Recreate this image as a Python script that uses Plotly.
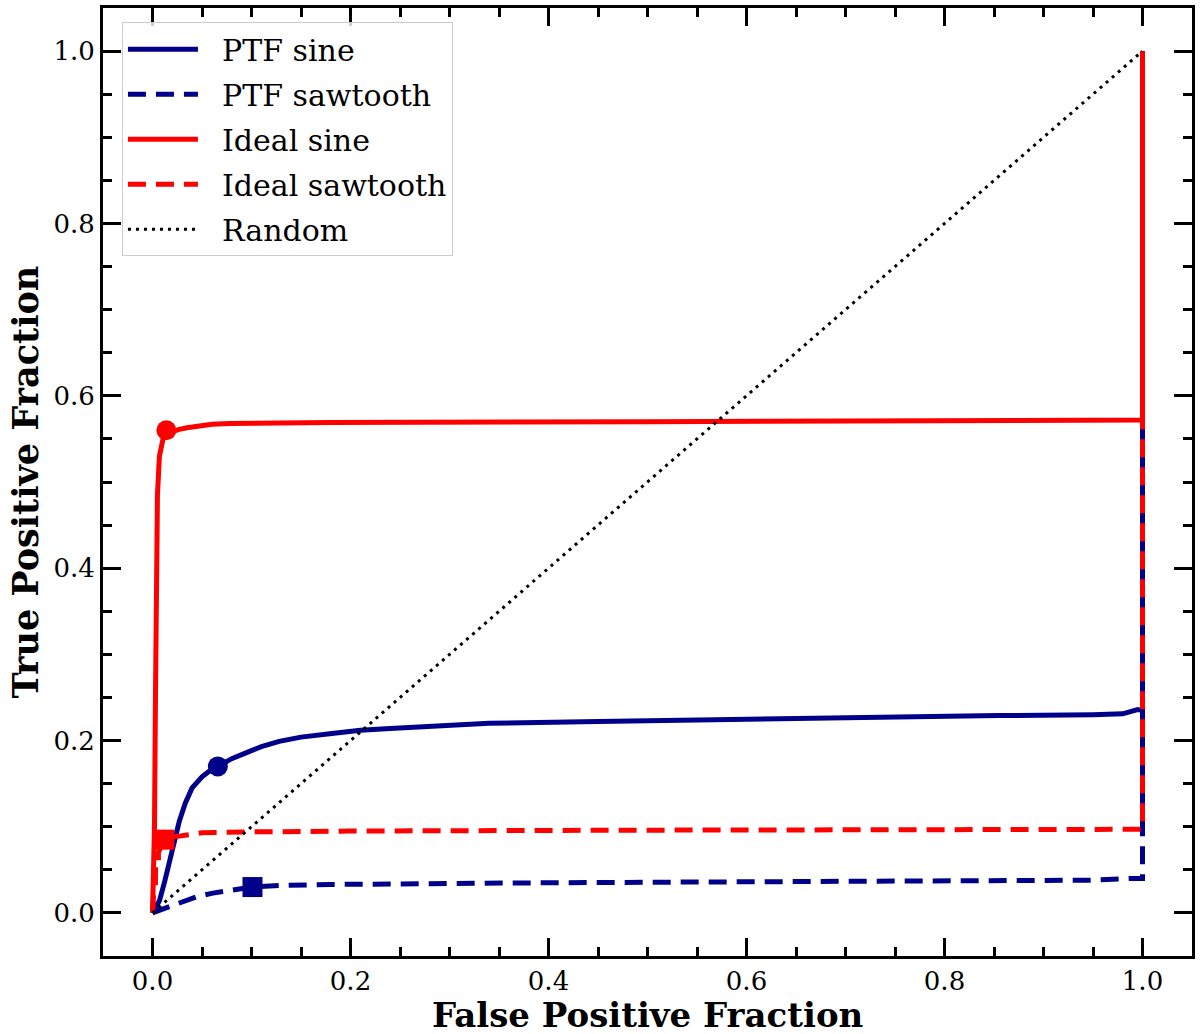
import plotly.graph_objects as go

# ---- data ----
ptf_sine_x = [0.0, 0.003, 0.007, 0.012, 0.017, 0.022, 0.027, 0.033, 0.04, 0.05, 0.058, 0.066, 0.08, 0.095,
              0.11, 0.128, 0.15, 0.179, 0.21, 0.24, 0.3, 0.34, 0.45, 0.55, 0.7, 0.855, 0.95, 0.98, 0.995, 1.0, 1.0]
ptf_sine_y = [0.0, 0.005, 0.014, 0.035, 0.06, 0.083, 0.106, 0.127, 0.145, 0.158, 0.165, 0.17, 0.179, 0.186,
              0.193, 0.199, 0.204, 0.208, 0.212, 0.214, 0.218, 0.22, 0.222, 0.224, 0.226, 0.229, 0.230, 0.231, 0.236, 0.235, 1.0]

ptf_saw_x = [0.0, 0.01, 0.02, 0.03, 0.045, 0.061, 0.08, 0.101, 0.13, 0.179, 0.4, 0.7, 0.95, 0.99, 1.0, 1.0]
ptf_saw_y = [0.0, 0.004, 0.008, 0.013, 0.019, 0.023, 0.027, 0.03, 0.032, 0.033, 0.035, 0.037, 0.038, 0.040, 0.040, 1.0]

ideal_sine_x = [0.0, 0.002, 0.003, 0.004, 0.005, 0.007, 0.009, 0.011, 0.014, 0.02, 0.027, 0.035, 0.045, 0.06,
                0.078, 0.18, 0.5, 0.8, 0.995, 1.0, 1.0]
ideal_sine_y = [0.0, 0.1, 0.25, 0.384, 0.485, 0.53, 0.546, 0.552, 0.556, 0.559, 0.561, 0.563, 0.565, 0.567,
                0.568, 0.569, 0.570, 0.571, 0.572, 0.572, 1.0]

ideal_saw_x = [0.0, 0.001, 0.003, 0.003, 0.006, 0.006, 0.01, 0.014, 0.02, 0.03, 0.05, 0.1, 0.2, 0.5, 0.8, 1.0, 1.0]
ideal_saw_y = [0.0, 0.02, 0.03, 0.05, 0.05, 0.07, 0.08, 0.085, 0.088, 0.09, 0.093, 0.094, 0.095, 0.096, 0.097, 0.097, 1.0]

random_x = [0.0, 1.0]
random_y = [0.0, 1.0]

# highlighted operating points
ptf_sine_pt = (0.066, 0.17)
ptf_saw_pt = (0.101, 0.03)
ideal_sine_pt = (0.014, 0.56)
ideal_saw_pt = (0.012, 0.085)

names = ["PTF sine", "PTF sawtooth", "Ideal sine", "Ideal sawtooth", "Random"]

BLUE = "#00008b"
RED = "#ff0000"
DASH = "18px,10px"
PAD = "\u00a0\u00a0"

fig = go.Figure()

curves = [
    (ptf_sine_x, ptf_sine_y, BLUE, "solid"),
    (ptf_saw_x, ptf_saw_y, BLUE, DASH),
    (ideal_sine_x, ideal_sine_y, RED, "solid"),
    (ideal_saw_x, ideal_saw_y, RED, DASH),
]
for i, ((xs, ys, c, d), n) in enumerate(zip(curves, names[:4])):
    fig.add_trace(go.Scatter(x=xs, y=ys, mode="lines", name=PAD + n, legendgroup=f"g{i}",
                             line=dict(color=c, width=5, dash=d)))

fig.add_trace(go.Scatter(x=random_x, y=random_y, mode="lines", name=PAD + names[4], legendgroup="g4",
                         line=dict(color="black", width=3, dash="3px,5px")))

pts = [
    (ptf_sine_pt, BLUE, "circle"),
    (ptf_saw_pt, BLUE, "square"),
    (ideal_sine_pt, RED, "circle"),
    (ideal_saw_pt, RED, "square"),
]
for (p, c, s) in pts:
    fig.add_trace(go.Scatter(x=[p[0]], y=[p[1]], mode="markers", showlegend=False,
                             marker=dict(color=c, size=20, symbol=s, line=dict(width=0))))

FONT = "DejaVu Serif"
axis_common = dict(
    showline=True, linewidth=3, linecolor="black", mirror="allticks",
    ticks="inside", ticklen=18, tickwidth=3, tickcolor="black",
    showgrid=False, zeroline=False,
    tickfont=dict(family=FONT, size=26, color="black"),
    minor=dict(ticks="inside", ticklen=9, tickwidth=2.5, tickcolor="black", dtick=0.05),
    dtick=0.2, tickformat=".1f",
)

fig.update_layout(
    width=1200, height=1034,
    margin=dict(l=103, r=7, t=5, b=78),
    paper_bgcolor="white", plot_bgcolor="white",
    xaxis=dict(range=[-0.05, 1.05], tick0=0, title=dict(text=""), **axis_common),
    yaxis=dict(range=[-0.05, 1.05], tick0=0, title=dict(text=""), **axis_common),
    legend=dict(x=0.0174, y=0.985, xanchor="left", yanchor="top",
                bgcolor="rgba(255,255,255,0.8)", bordercolor="#cccccc", borderwidth=1,
                font=dict(family=FONT, size=30, color="black"),
                itemwidth=70, tracegroupgap=3),
    showlegend=True,
    annotations=[
        dict(text="<b>False Positive Fraction</b>", xref="paper", yref="paper",
             x=0.5, y=0, yshift=-81, xanchor="center", yanchor="bottom", showarrow=False,
             font=dict(family=FONT, size=34, color="black")),
        dict(text="<b>True Positive Fraction</b>", xref="paper", yref="paper",
             x=0, xshift=-101, y=0.5, xanchor="left", yanchor="middle", showarrow=False,
             textangle=-90, font=dict(family=FONT, size=35, color="black")),
    ],
)

fig.write_html("out.html")
